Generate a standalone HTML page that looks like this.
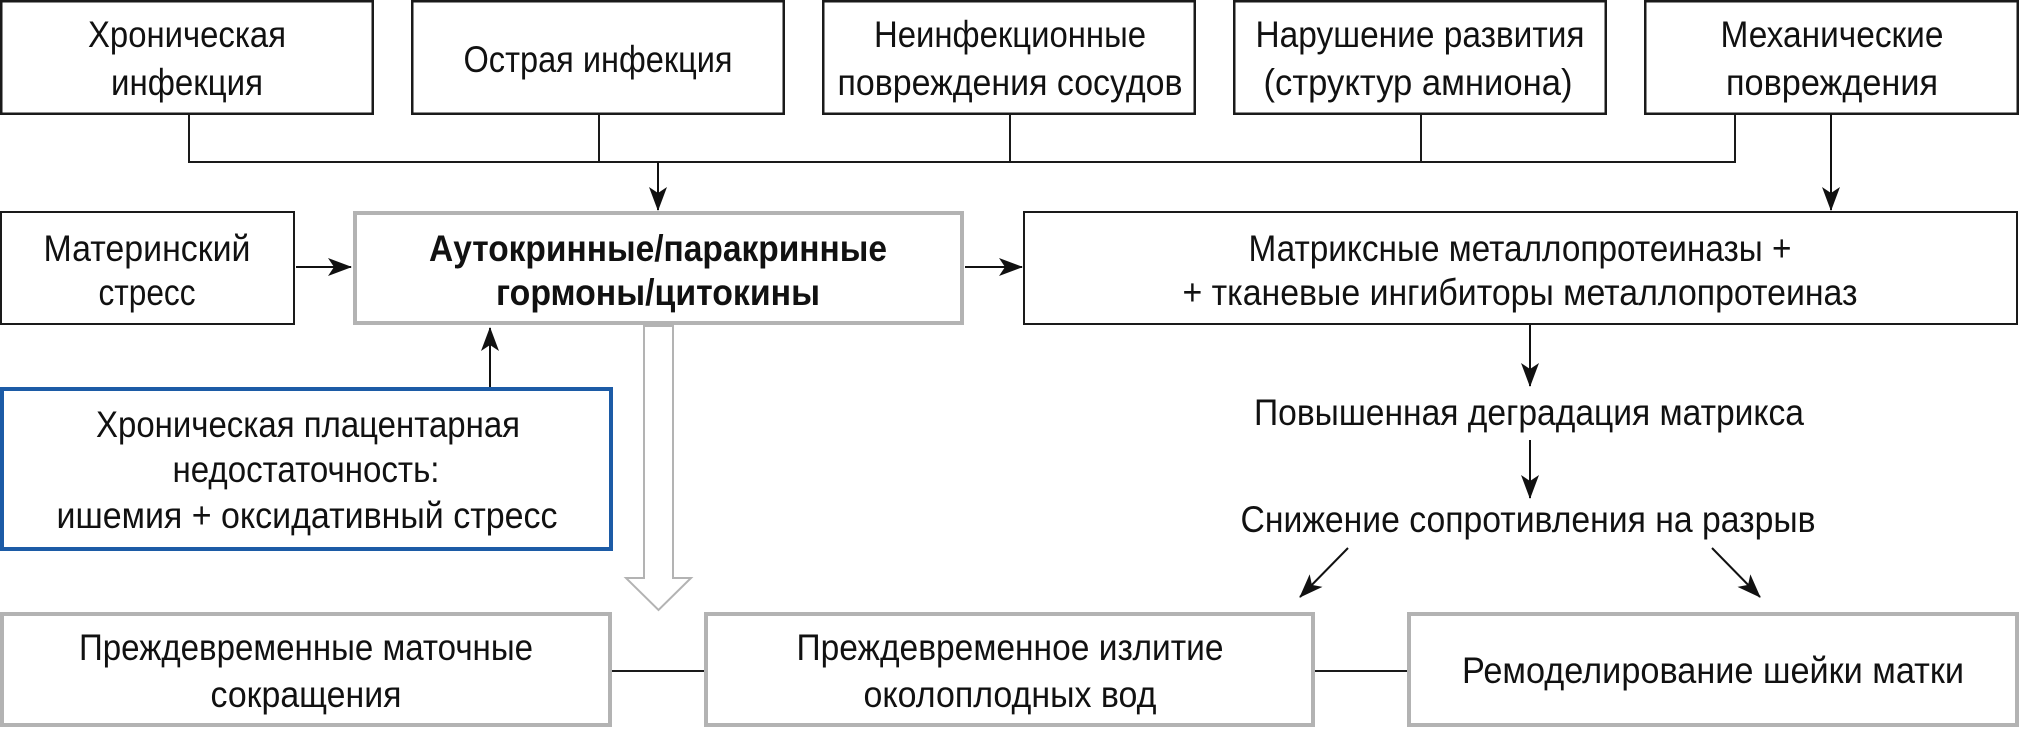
<!DOCTYPE html>
<html>
<head>
<meta charset="utf-8">
<style>
  html, body { margin: 0; padding: 0; background: #ffffff; }
  body { width: 2020px; height: 729px; overflow: hidden; }
  svg { display: block; }
  text { font-family: "Liberation Sans", "DejaVu Sans", sans-serif; font-size: 37px; fill: #111; text-anchor: middle; }
  .b { font-weight: bold; }
</style>
</head>
<body>
<svg width="2020" height="729" viewBox="0 0 2020 729" xmlns="http://www.w3.org/2000/svg">
  <defs>
    <marker id="ah" viewBox="0 0 24 18" refX="23" refY="9" markerWidth="24" markerHeight="18" markerUnits="userSpaceOnUse" orient="auto">
      <path d="M0,0 L24,9 L0,18 L6,9 z" fill="#111"/>
    </marker>
  </defs>

  <!-- Top row boxes -->
  <g fill="#fff" stroke="#1a1a1a" stroke-width="2.5">
    <rect x="1.25" y="1.25" width="371.5" height="112.5"/>
    <rect x="412.25" y="1.25" width="371.5" height="112.5"/>
    <rect x="823.25" y="1.25" width="371.5" height="112.5"/>
    <rect x="1234.25" y="1.25" width="371.5" height="112.5"/>
    <rect x="1645.25" y="1.25" width="372.5" height="112.5"/>
  </g>

  <!-- Top connectors -->
  <g stroke="#1a1a1a" stroke-width="2" fill="none">
    <line x1="189" y1="114" x2="189" y2="162"/>
    <line x1="599" y1="114" x2="599" y2="162"/>
    <line x1="1010" y1="114" x2="1010" y2="162"/>
    <line x1="1421" y1="114" x2="1421" y2="162"/>
    <line x1="1735" y1="114" x2="1735" y2="162"/>
    <line x1="188" y1="162" x2="1736" y2="162"/>
  </g>

  <!-- Arrows -->
  <g stroke="#111" stroke-width="2" fill="none" marker-end="url(#ah)">
    <line x1="658" y1="162" x2="658" y2="210"/>
    <line x1="1831" y1="114" x2="1831" y2="210"/>
    <line x1="296" y1="267" x2="351" y2="267"/>
    <line x1="965" y1="267" x2="1022" y2="267"/>
    <line x1="490" y1="387" x2="490" y2="328"/>
    <line x1="1530" y1="325" x2="1530" y2="386"/>
    <line x1="1530" y1="440" x2="1530" y2="498"/>
    <line x1="1348" y1="548" x2="1300" y2="597"/>
    <line x1="1712" y1="548" x2="1760" y2="597"/>
  </g>

  <!-- Row 2 boxes -->
  <rect x="1" y="212" width="293" height="112" fill="#fff" stroke="#1a1a1a" stroke-width="2"/>
  <rect x="355" y="213" width="607" height="110" fill="#fff" stroke="#b3b3b3" stroke-width="4"/>
  <rect x="1024" y="212" width="993" height="112" fill="#fff" stroke="#1a1a1a" stroke-width="2"/>

  <!-- Hollow arrow -->
  <polygon points="644,326 644,578 626,578 658.5,610 691,578 673,578 673,326" fill="#fff" stroke="#b3b3b3" stroke-width="2"/>

  <!-- Blue box -->
  <rect x="2" y="389" width="609" height="160" fill="#fff" stroke="#1c5ba6" stroke-width="4"/>

  <!-- Bottom connectors -->
  <g stroke="#1a1a1a" stroke-width="2">
    <line x1="612" y1="671" x2="705" y2="671"/>
    <line x1="1315" y1="671" x2="1408" y2="671"/>
  </g>

  <!-- Bottom boxes -->
  <g fill="#fff" stroke="#b3b3b3" stroke-width="4">
    <rect x="2" y="614" width="608" height="111"/>
    <rect x="706" y="614" width="607" height="111"/>
    <rect x="1409" y="614" width="608" height="111"/>
  </g>

  <!-- Texts: top row -->
  <text x="187" y="47" textLength="198" lengthAdjust="spacingAndGlyphs">Хроническая</text>
  <text x="187" y="95" textLength="152" lengthAdjust="spacingAndGlyphs">инфекция</text>

  <text x="598" y="72" textLength="269" lengthAdjust="spacingAndGlyphs">Острая инфекция</text>

  <text x="1010" y="47" textLength="272" lengthAdjust="spacingAndGlyphs">Неинфекционные</text>
  <text x="1010" y="95" textLength="345" lengthAdjust="spacingAndGlyphs">повреждения сосудов</text>

  <text x="1420" y="47" textLength="329" lengthAdjust="spacingAndGlyphs">Нарушение развития</text>
  <text x="1418" y="95" textLength="309" lengthAdjust="spacingAndGlyphs">(структур амниона)</text>

  <text x="1832" y="47" textLength="223" lengthAdjust="spacingAndGlyphs">Механические</text>
  <text x="1832" y="95" textLength="212" lengthAdjust="spacingAndGlyphs">повреждения</text>

  <!-- Row 2 texts -->
  <text x="147" y="261" textLength="207" lengthAdjust="spacingAndGlyphs">Материнский</text>
  <text x="147" y="305" textLength="97" lengthAdjust="spacingAndGlyphs">стресс</text>

  <text class="b" x="658" y="261" textLength="458" lengthAdjust="spacingAndGlyphs">Аутокринные/паракринные</text>
  <text class="b" x="658" y="305" textLength="324" lengthAdjust="spacingAndGlyphs">гормоны/цитокины</text>

  <text x="1520" y="261" textLength="543" lengthAdjust="spacingAndGlyphs">Матриксные металлопротеиназы +</text>
  <text x="1520" y="305" textLength="675" lengthAdjust="spacingAndGlyphs">+ тканевые ингибиторы металлопротеиназ</text>

  <!-- Blue box text -->
  <text x="308" y="437" textLength="424" lengthAdjust="spacingAndGlyphs">Хроническая плацентарная</text>
  <text x="306" y="482" textLength="267" lengthAdjust="spacingAndGlyphs">недостаточность:</text>
  <text x="307" y="528" textLength="501" lengthAdjust="spacingAndGlyphs">ишемия + оксидативный стресс</text>

  <!-- Middle right texts -->
  <text x="1529" y="425" textLength="550" lengthAdjust="spacingAndGlyphs">Повышенная деградация матрикса</text>
  <text x="1528" y="532" textLength="575" lengthAdjust="spacingAndGlyphs">Снижение сопротивления на разрыв</text>

  <!-- Bottom texts -->
  <text x="306" y="660" textLength="454" lengthAdjust="spacingAndGlyphs">Преждевременные маточные</text>
  <text x="306" y="707" textLength="191" lengthAdjust="spacingAndGlyphs">сокращения</text>

  <text x="1010" y="660" textLength="427" lengthAdjust="spacingAndGlyphs">Преждевременное излитие</text>
  <text x="1010" y="707" textLength="293" lengthAdjust="spacingAndGlyphs">околоплодных вод</text>

  <text x="1713" y="683" textLength="502" lengthAdjust="spacingAndGlyphs">Ремоделирование шейки матки</text>
</svg>
</body>
</html>
